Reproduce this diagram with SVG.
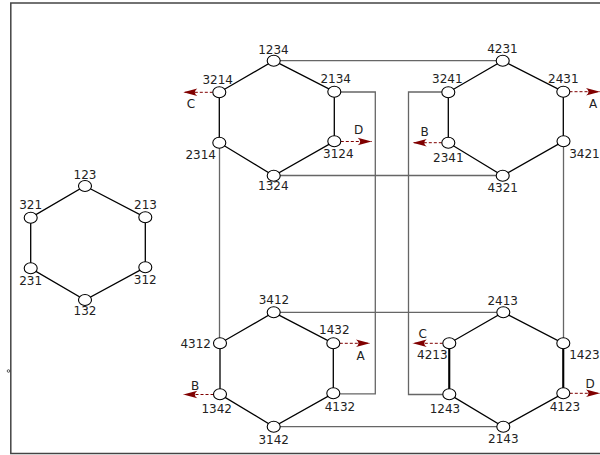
<svg xmlns="http://www.w3.org/2000/svg" width="600" height="455" viewBox="0 0 600 455">
<style>
.n{fill:#fff;stroke:#000;stroke-width:1.1}
.t{font-family:"DejaVu Sans",sans-serif;font-size:12px;fill:#222;text-anchor:middle}
.e{stroke:#000;stroke-width:1.3;fill:none}
.c{stroke:#666;stroke-width:1.3;fill:none}
.a{stroke:#800000;stroke-width:1;stroke-dasharray:3,2;fill:none;marker-end:url(#ah)}
.f{stroke:#444;stroke-width:1.5;fill:none}
</style>
<defs>
<marker id="ah" markerUnits="userSpaceOnUse" viewBox="-15 -5 16 10" refX="0" refY="0" markerWidth="16" markerHeight="10" orient="auto" overflow="visible">
<path d="M0,0 L-14,-3.8 Q-9,0 -14,3.8 Z" fill="#800000"/>
</marker>
</defs>
<rect width="600" height="455" fill="#fff"/>
<path class="f" d="M600,3 H10.8 V453.5 H600"/>
<circle cx="8.5" cy="371" r="1.3" fill="none" stroke="#333" stroke-width="0.8"/>
<g id="connectors">
<path class="e" d="M85,186 L145.3,217.3 V267.3 L85,300 L30.7,268.3 V217.7 Z"/>
<path class="e" d="M273.7,60.7 L334.3,91.7 V141.3 L273.7,175.7 L219.3,142.7 V92.3 Z"/>
<path class="e" d="M502.7,60.7 L563.3,91.7 V141.3 L502.7,175.7 L448.3,142.7 V92.3 Z"/>
<path class="e" d="M273.7,312.3 L333.3,343.3 V393.3 L273.7,426.7 L220,394.3 V343.3 Z"/>
<path class="e" d="M503.3,312.3 L563.3,343.3 V393.3 L503.3,426.7 L449.3,394.3 V343.3 Z"/>
<path class="e" style="stroke-width:2" d="M449.3,343.3 V394.3 M563.3,343.3 V393.3"/>
<path class="c" d="M273.7,60.7 H502.7"/>
<path class="c" d="M334.3,92 H375.3 V393.8 H333.3"/>
<path class="c" d="M273.7,175.5 H502.7"/>
<path class="c" d="M219.5,142.7 V343.3"/>
<path class="c" d="M448.3,92 H408.5 V394.5 H449.3"/>
<path class="c" d="M563.5,141.3 V343.3"/>
<path class="c" d="M273.7,312.3 H503.3"/>
<path class="c" d="M273.7,426.7 H503.3"/>
<path class="a" d="M212.8,92.3 H183.3"/>
<path class="a" d="M340.8,141.5 H371.7"/>
<path class="a" d="M569.5,91.7 H600"/>
<path class="a" d="M441.8,142.7 H412.7"/>
<path class="a" d="M339.8,343.3 H370"/>
<path class="a" d="M213.5,394.5 H183.3"/>
<path class="a" d="M442.8,343.3 H412.7"/>
<path class="a" d="M569.8,393.3 H600"/>
<text class="t" x="191" y="108.4">C</text>
<text class="t" x="358.7" y="133.7">D</text>
<text class="t" x="593" y="107.7">A</text>
<text class="t" x="424.7" y="136">B</text>
<text class="t" x="360.7" y="360.4">A</text>
<text class="t" x="195" y="389.7">B</text>
<text class="t" x="422.7" y="337.7">C</text>
<text class="t" x="590" y="387.7">D</text>
</g>
<g id="n123"><ellipse class="n" cx="85" cy="186" rx="6.5" ry="5.5"/><text class="t" x="85" y="179">123</text></g>
<g id="n321"><ellipse class="n" cx="30.7" cy="217.7" rx="6.5" ry="5.5"/><text class="t" x="30.7" y="208.5">321</text></g>
<g id="n213"><ellipse class="n" cx="145.3" cy="217.3" rx="6.5" ry="5.5"/><text class="t" x="145.5" y="208.5">213</text></g>
<g id="n231"><ellipse class="n" cx="30.7" cy="268.3" rx="6.5" ry="5.5"/><text class="t" x="30.7" y="285">231</text></g>
<g id="n312"><ellipse class="n" cx="145.3" cy="267.3" rx="6.5" ry="5.5"/><text class="t" x="145.3" y="283.5">312</text></g>
<g id="n132"><ellipse class="n" cx="85" cy="300" rx="6.5" ry="5.5"/><text class="t" x="85" y="315">132</text></g>
<g id="n1234"><ellipse class="n" cx="273.7" cy="60.7" rx="6.5" ry="5.5"/><text class="t" x="273.5" y="53.7">1234</text></g>
<g id="n3214"><ellipse class="n" cx="219.3" cy="92.3" rx="6.5" ry="5.5"/><text class="t" x="217.7" y="83.7">3214</text></g>
<g id="n2134"><ellipse class="n" cx="334.3" cy="91.7" rx="6.5" ry="5.5"/><text class="t" x="335.7" y="82.7">2134</text></g>
<g id="n2314"><ellipse class="n" cx="219.3" cy="142.7" rx="6.5" ry="5.5"/><text class="t" x="200.7" y="158.7">2314</text></g>
<g id="n3124"><ellipse class="n" cx="334.3" cy="141.3" rx="6.5" ry="5.5"/><text class="t" x="338.3" y="157.7">3124</text></g>
<g id="n1324"><ellipse class="n" cx="273.7" cy="175.7" rx="6.5" ry="5.5"/><text class="t" x="273.3" y="190">1324</text></g>
<g id="n4231"><ellipse class="n" cx="502.7" cy="60.7" rx="6.5" ry="5.5"/><text class="t" x="502.5" y="52.7">4231</text></g>
<g id="n3241"><ellipse class="n" cx="448.3" cy="92.3" rx="6.5" ry="5.5"/><text class="t" x="447.3" y="82.7">3241</text></g>
<g id="n2431"><ellipse class="n" cx="563.3" cy="91.7" rx="6.5" ry="5.5"/><text class="t" x="563.3" y="82.7">2431</text></g>
<g id="n2341"><ellipse class="n" cx="448.3" cy="142.7" rx="6.5" ry="5.5"/><text class="t" x="448.3" y="161.7">2341</text></g>
<g id="n3421"><ellipse class="n" cx="563.5" cy="141.3" rx="6.5" ry="5.5"/><text class="t" x="584.5" y="157.7">3421</text></g>
<g id="n4321"><ellipse class="n" cx="502.7" cy="175.7" rx="6.5" ry="5.5"/><text class="t" x="502.7" y="192">4321</text></g>
<g id="n3412"><ellipse class="n" cx="273.7" cy="312.3" rx="6.5" ry="5.5"/><text class="t" x="274" y="304.4">3412</text></g>
<g id="n4312"><ellipse class="n" cx="220" cy="343.3" rx="6.5" ry="5.5"/><text class="t" x="195.7" y="347.7">4312</text></g>
<g id="n1432"><ellipse class="n" cx="333.3" cy="343.3" rx="6.5" ry="5.5"/><text class="t" x="334.3" y="334.4">1432</text></g>
<g id="n1342"><ellipse class="n" cx="220" cy="394.3" rx="6.5" ry="5.5"/><text class="t" x="216.7" y="412.7">1342</text></g>
<g id="n4132"><ellipse class="n" cx="333.3" cy="393.3" rx="6.5" ry="5.5"/><text class="t" x="340" y="411">4132</text></g>
<g id="n3142"><ellipse class="n" cx="273.7" cy="426.7" rx="6.5" ry="5.5"/><text class="t" x="273.7" y="444.4">3142</text></g>
<g id="n2413"><ellipse class="n" cx="503.3" cy="312.3" rx="6.5" ry="5.5"/><text class="t" x="502.7" y="305.4">2413</text></g>
<g id="n4213"><ellipse class="n" cx="449.3" cy="343.3" rx="6.5" ry="5.5"/><text class="t" x="432.3" y="359.4">4213</text></g>
<g id="n1423"><ellipse class="n" cx="563.3" cy="343.3" rx="6.5" ry="5.5"/><text class="t" x="584.5" y="359.4">1423</text></g>
<g id="n1243"><ellipse class="n" cx="449.3" cy="394.3" rx="6.5" ry="5.5"/><text class="t" x="445" y="412.7">1243</text></g>
<g id="n4123"><ellipse class="n" cx="563.3" cy="393.3" rx="6.5" ry="5.5"/><text class="t" x="565" y="411">4123</text></g>
<g id="n2143"><ellipse class="n" cx="503.3" cy="426.7" rx="6.5" ry="5.5"/><text class="t" x="503.3" y="443.4">2143</text></g>
</svg>
